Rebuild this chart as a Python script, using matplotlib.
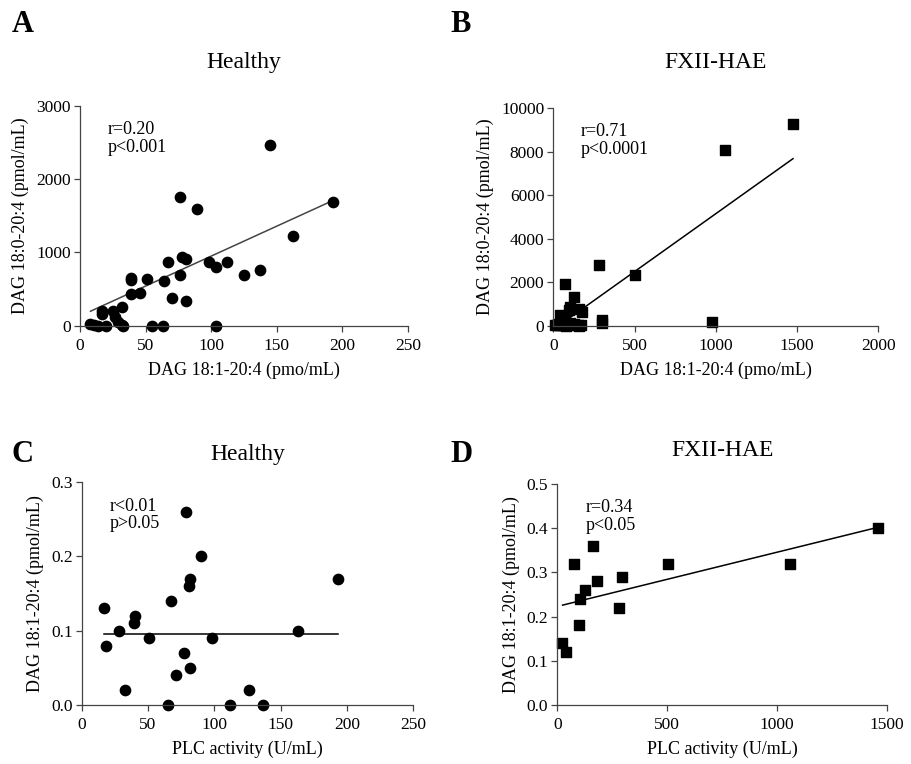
import numpy as np
import matplotlib
matplotlib.use("Agg")
import matplotlib.pyplot as plt

plt.rcParams['font.family'] = ['Liberation Serif', 'DejaVu Serif']

# --- panel A : healthy, DAG 18:1-20:4 vs DAG 18:0-20:4 ---
a_x = [145, 193, 76, 89, 162, 78, 81, 67, 98, 112, 104, 125, 137, 76,
       39, 39, 51, 64, 39, 46, 70, 81, 32, 17, 17, 25, 27, 29,
       8, 11, 14, 20, 32, 33, 55, 63, 104]
a_y = [2464, 1682, 1755, 1586, 1227, 941, 905, 873, 873, 873, 795, 686, 755, 695,
       655, 618, 636, 609, 432, 450, 382, 341, 255, 205, 159, 195, 123, 55,
       20, 10, 0, 0, 10, 0, 0, 0, 0]
a_fit = (8.17, 132)      # slope, intercept

# --- panel B : FXII-HAE ---
b_x = [1475, 1059, 502, 283, 74, 127, 102, 98, 174, 160, 41, 297, 301, 977,
       10, 20, 30, 40, 50, 60, 70, 80, 90, 100, 110, 130, 150, 160, 170]
b_y = [9272, 8092, 2345, 2805, 1900, 1318, 843, 720, 628, 750, 490, 260, 107, 168,
       20, 50, 100, 10, 150, 30, 200, 0, 60, 120, 30, 80, 20, 0, 50]
b_fit = (5.32, -175)

# --- panel C : healthy, PLC activity ---
c_x = [79, 90, 82, 81, 193.5, 67, 16.5, 40, 39.6, 28, 163, 51, 98, 18, 77, 82,
       71, 33, 126, 65, 112, 137]
c_y = [0.26, 0.20, 0.17, 0.16, 0.17, 0.14, 0.13, 0.12, 0.11, 0.10, 0.10, 0.09, 0.09,
       0.08, 0.07, 0.05, 0.04, 0.02, 0.02, 0.0, 0.0, 0.0]
c_fit = (0.0, 0.0958)

# --- panel D : FXII-HAE, PLC activity ---
d_x = [1460, 1057, 503, 163, 75, 181, 296, 128, 103, 100, 281, 20, 39]
d_y = [0.40, 0.32, 0.32, 0.36, 0.32, 0.28, 0.29, 0.26, 0.24, 0.18, 0.22, 0.14, 0.12]
d_fit = (1.227e-4, 0.223)

W, H = 912, 764
fig = plt.figure(figsize=(W / 100, H / 100), dpi=100)


def make_ax(x0, x1, y0, y1):
    # pixel box -> figure fraction
    return fig.add_axes([x0 / W, 1 - y1 / H, (x1 - x0) / W, (y1 - y0) / H])


def style(ax, xlim, ylim, xticks, yticks, ylabels=None):
    for s in ['top', 'right']:
        ax.spines[s].set_visible(False)
    for s in ['left', 'bottom']:
        ax.spines[s].set_linewidth(0.9)
        ax.spines[s].set_color('#444444')
    ax.set_xlim(xlim)
    ax.set_ylim(ylim)
    ax.set_xticks(xticks)
    ax.set_yticks(yticks)
    if ylabels is not None:
        ax.set_yticklabels(ylabels)
    ax.tick_params(direction='out', length=4.5, width=0.9, labelsize=12.5,
                   color='#444444', pad=2)
    ax.tick_params(axis='x', pad=4)


def fit_line(ax, xs, fit, color='black'):
    xx = np.array([min(xs), max(xs)])
    ax.plot(xx, fit[0] * xx + fit[1], color=color, lw=1.1, zorder=1)


def stats(ax, txt):
    ax.text(0.085, 0.93, txt, transform=ax.transAxes, fontsize=13,
            va='top', ha='left', linespacing=1.05)


# A
axA = make_ax(80, 408, 105.7, 325.7)
axA.scatter(a_x, a_y, s=55, marker='o', color='black', zorder=2, clip_on=False)
fit_line(axA, a_x, a_fit, color='#444444')
style(axA, (0, 250), (0, 3000), [0, 50, 100, 150, 200, 250], [0, 1000, 2000, 3000])
axA.set_xlabel('DAG 18:1-20:4 (pmo/mL)', fontsize=13, labelpad=6)
axA.set_ylabel('DAG 18:0-20:4 (pmol/mL)', fontsize=13, labelpad=5)
axA.set_title('Healthy', fontsize=17, pad=27)
stats(axA, 'r=0.20\np<0.001')

# B
axB = make_ax(553.3, 878.3, 108, 325.7)
axB.scatter(b_x, b_y, s=50, marker='s', color='black', zorder=2, clip_on=False)
fit_line(axB, [82, 1475], b_fit)
style(axB, (0, 2000), (0, 10000), [0, 500, 1000, 1500, 2000],
      [0, 2000, 4000, 6000, 8000, 10000])
axB.set_xlabel('DAG 18:1-20:4 (pmo/mL)', fontsize=13, labelpad=6)
axB.set_ylabel('DAG 18:0-20:4 (pmol/mL)', fontsize=13, labelpad=5)
axB.set_title('FXII-HAE', fontsize=17, pad=29)
stats(axB, 'r=0.71\np<0.0001')

# C
axC = make_ax(81.7, 413.3, 482, 705)
axC.scatter(c_x, c_y, s=55, marker='o', color='black', zorder=2, clip_on=False)
fit_line(axC, c_x, c_fit)
style(axC, (0, 250), (0, 0.3), [0, 50, 100, 150, 200, 250], [0, 0.1, 0.2, 0.3],
      ['0.0', '0.1', '0.2', '0.3'])
axC.set_xlabel('PLC activity (U/mL)', fontsize=13, labelpad=6)
axC.set_ylabel('DAG 18:1-20:4 (pmol/mL)', fontsize=13, labelpad=5)
axC.set_title('Healthy', fontsize=17, pad=15.5)
stats(axC, 'r<0.01\np>0.05')

# D
axD = make_ax(557.3, 887, 484, 705)
axD.scatter(d_x, d_y, s=50, marker='s', color='black', zorder=2, clip_on=False)
fit_line(axD, [24, 1460], d_fit)
style(axD, (0, 1500), (0, 0.5), [0, 500, 1000, 1500], [0, 0.1, 0.2, 0.3, 0.4, 0.5],
      ['0.0', '0.1', '0.2', '0.3', '0.4', '0.5'])
axD.set_xlabel('PLC activity (U/mL)', fontsize=13, labelpad=6)
axD.set_ylabel('DAG 18:1-20:4 (pmol/mL)', fontsize=13, labelpad=5)
axD.set_title('FXII-HAE', fontsize=17, pad=20)
stats(axD, 'r=0.34\np<0.05')

# panel letters
for lab, px, py in [('A', 12, 10), ('B', 450, 10), ('C', 12, 440), ('D', 450, 440)]:
    fig.text(px / W, 1 - py / H, lab, fontsize=22, fontweight='bold', va='top', ha='left')

fig.savefig('out.png', dpi=100)
